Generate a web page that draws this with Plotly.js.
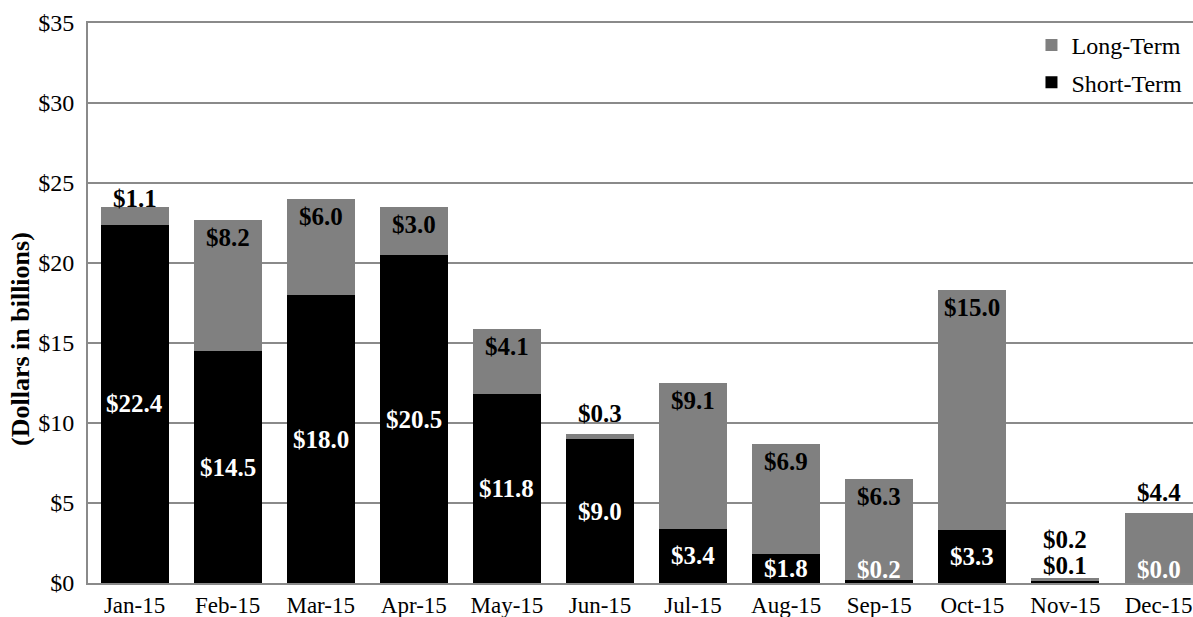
<!DOCTYPE html>
<html>
<head>
<meta charset="utf-8">
<script src="https://cdn.plot.ly/plotly-3.0.1.min.js"></script>
<style>
  html, body { margin: 0; padding: 0; background: #fff; }
  #chart { width: 1193px; height: 617px; }
</style>
</head>
<body>
<div id="chart"></div>
<script>
// ---- Data ----
const months = ['Jan-15','Feb-15','Mar-15','Apr-15','May-15','Jun-15','Jul-15','Aug-15','Sep-15','Oct-15','Nov-15','Dec-15'];
const shortTerm = [22.4, 14.5, 18.0, 20.5, 11.8, 9.0, 3.4, 1.8, 0.2, 3.3, 0.1, 0.0];
const longTerm  = [1.1, 8.2, 6.0, 3.0, 4.1, 0.3, 9.1, 6.9, 6.3, 15.0, 0.2, 4.4];
const yTickVals = [0, 5, 10, 15, 20, 25, 30, 35];
const yTickText = ['$0', '$5', '$10', '$15', '$20', '$25', '$30', '$35'];

// ---- Label placement styles (not data) ----
const longPlace  = ['aboveTight','in','in','in','in','above','in','in','in','in','above2','above'];
const shortPlace = ['mid','mid','mid','mid','mid','mid','mid','mid','base','mid','over','base'];

const FONT = '"Liberation Serif", "Times New Roman", Times, serif';
const LBL = 25;
const fmt = v => '$' + v.toFixed(1);

const annotations = [];
months.forEach((m, i) => {
  const total = shortTerm[i] + longTerm[i];
  const sp = shortPlace[i];
  const sa = {x: m, xref: 'x', yref: 'y', text: fmt(shortTerm[i]), showarrow: false,
              font: {family: FONT, size: LBL, color: '#ffffff', weight: 'bold'}};
  if (sp === 'mid') { sa.y = shortTerm[i] / 2; sa.yanchor = 'middle'; }
  else if (sp === 'base') { sa.y = 0; sa.yanchor = 'bottom'; sa.yshift = -2; }
  else { sa.y = total; sa.yanchor = 'bottom'; sa.yshift = -3; sa.font.color = '#000000'; }
  annotations.push(sa);
  const lp = longPlace[i];
  const la = {x: m, xref: 'x', yref: 'y', y: total, text: fmt(longTerm[i]), showarrow: false,
              font: {family: FONT, size: LBL, color: '#000000', weight: 'bold'}};
  if (lp === 'in') { la.yanchor = 'top'; la.yshift = -2; }
  else if (lp === 'above') { la.yanchor = 'bottom'; la.yshift = 5; }
  else if (lp === 'aboveTight') { la.yanchor = 'bottom'; la.yshift = -7; }
  else { la.yanchor = 'bottom'; la.yshift = 23; }
  annotations.push(la);
});

// y-axis title as rotated annotation
annotations.push({
  xref: 'paper', yref: 'paper', x: -0.061, y: 0.435, xanchor: 'center', yanchor: 'middle',
  text: '(Dollars in billions)', textangle: -90, showarrow: false,
  font: {family: FONT, size: 26, color: '#000000', weight: 'bold'}
});

const traces = [
  {type: 'bar', name: 'Short-Term', x: months, y: shortTerm, legendgroup: 's', legendrank: 2,
   marker: {color: '#000000', line: {width: 0}}, hoverinfo: 'skip'},
  {type: 'bar', name: 'Long-Term', x: months, y: longTerm, legendgroup: 'l', legendrank: 1,
   marker: {color: '#808080', line: {width: 0}}, hoverinfo: 'skip'}
];

const layout = {
  width: 1193, height: 617, autosize: false,
  margin: {l: 88, r: 0, t: 23, b: 34, pad: 0},
  paper_bgcolor: '#ffffff', plot_bgcolor: '#ffffff',
  barmode: 'stack', bargap: 0.27,
  font: {family: FONT, color: '#000000'},
  xaxis: {
    type: 'category', range: [-0.5, 11.37],
    showgrid: false, showline: true, mirror: true, linecolor: '#8a8a8a', linewidth: 2,
    ticks: '', tickfont: {family: FONT, size: 23, color: '#000'}, ticklabelstandoff: 0,
    zeroline: false, fixedrange: true
  },
  yaxis: {
    range: [0, 35], tickmode: 'array', tickvals: yTickVals, ticktext: yTickText,
    showgrid: true, gridcolor: '#8a8a8a', gridwidth: 2,
    showline: true, linecolor: '#8a8a8a', linewidth: 2,
    zeroline: false, ticks: '', ticklabelstandoff: 7,
    tickfont: {family: FONT, size: 24, color: '#000'}, fixedrange: true
  },
  showlegend: true,
  legend: {
    x: 0.995, xanchor: 'right', y: 1.0, yanchor: 'top',
    traceorder: 'grouped', tracegroupgap: 3,
    bgcolor: 'rgba(255,255,255,0)', borderwidth: 0,
    font: {family: FONT, size: 24, color: '#000'}
  },
  annotations: annotations
};

Plotly.newPlot('chart', traces, layout, {displayModeBar: false, staticPlot: true});
</script>
</body>
</html>
